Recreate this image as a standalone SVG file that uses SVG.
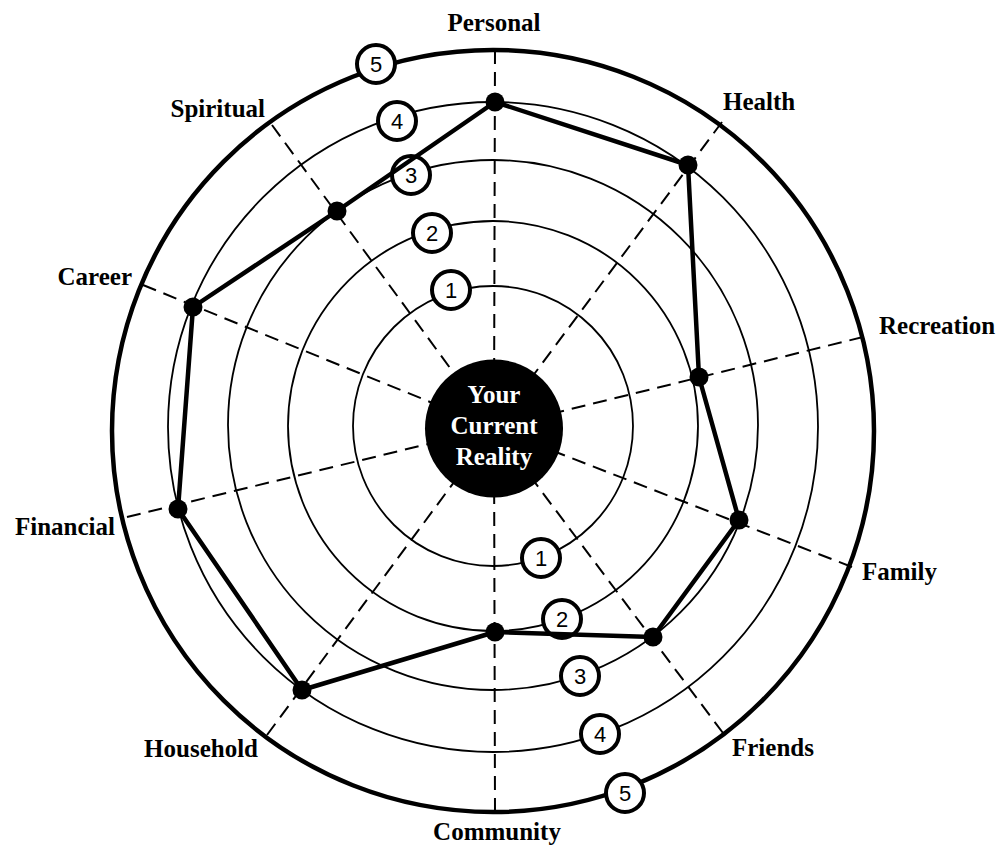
<svg xmlns="http://www.w3.org/2000/svg" width="1000" height="846" viewBox="0 0 1000 846">
<style>
.ring{fill:none;stroke:#000;stroke-width:1.8}
.outer{fill:none;stroke:#000;stroke-width:4.5}
.spoke{stroke:#000;stroke-width:2;stroke-dasharray:14 8;fill:none}
.num circle{fill:#fff;stroke:#000;stroke-width:4}
.num text{font-family:"Liberation Sans",Arial,sans-serif;font-size:22px;text-anchor:middle;fill:#000}
.lbl{font-family:"Liberation Serif","Times New Roman",serif;font-weight:bold;font-size:25px;fill:#000}
.dot{fill:#000}
</style>
<rect width="1000" height="846" fill="#fff"/>
<g id="rings">
<circle class="ring" cx="493" cy="426" r="140"/>
<circle class="ring" cx="493" cy="426" r="205"/>
<circle class="ring" cx="493" cy="425" r="265"/>
<circle class="ring" cx="493" cy="427" r="325"/>
<circle class="outer" cx="493" cy="431" r="381"/>
</g>
<g id="spokes">
<line class="spoke" x1="495" y1="50" x2="494" y2="428"/>
<line class="spoke" x1="722" y1="122" x2="494" y2="428"/>
<line class="spoke" x1="863" y1="337" x2="494" y2="428"/>
<line class="spoke" x1="852" y1="567" x2="494" y2="428"/>
<line class="spoke" x1="723" y1="733" x2="494" y2="428"/>
<line class="spoke" x1="495" y1="812" x2="494" y2="428"/>
<line class="spoke" x1="267" y1="735" x2="494" y2="428"/>
<line class="spoke" x1="127" y1="517" x2="494" y2="428"/>
<line class="spoke" x1="143" y1="285" x2="494" y2="428"/>
<line class="spoke" x1="272" y1="125" x2="494" y2="428"/>
</g>
<g id="center">
<circle cx="494" cy="428.5" r="69" fill="#000"/>
<text class="lbl" x="494" y="403" text-anchor="middle" style="fill:#fff">Your</text>
<text class="lbl" x="494" y="434" text-anchor="middle" style="fill:#fff">Current</text>
<text class="lbl" x="494" y="465" text-anchor="middle" style="fill:#fff">Reality</text>
</g>
<g id="scale-upper" class="num">
<circle cx="376" cy="64" r="19"/><text x="376" y="72">5</text>
<circle cx="397" cy="121" r="19"/><text x="397" y="129">4</text>
<circle cx="411" cy="175" r="19"/><text x="411" y="183">3</text>
<circle cx="432" cy="233" r="19"/><text x="432" y="241">2</text>
<circle cx="451" cy="290" r="19"/><text x="451" y="298">1</text>
</g>
<g id="scale-lower" class="num">
<circle cx="541" cy="558" r="19"/><text x="541" y="566">1</text>
<circle cx="562" cy="619" r="19"/><text x="562" y="627">2</text>
<circle cx="580" cy="676" r="19"/><text x="580" y="684">3</text>
<circle cx="600" cy="734" r="19"/><text x="600" y="742">4</text>
<circle cx="625" cy="793" r="19"/><text x="625" y="801">5</text>
</g>
<g id="profile">
<polygon points="495,102 688,165 699,377 739,520 653,637 495,632 302,690 178,509 193,307 337,211" fill="none" stroke="#000" stroke-width="4.5" stroke-linejoin="round"/>
<circle class="dot" cx="495" cy="102" r="9.5"/>
<circle class="dot" cx="688" cy="165" r="9.5"/>
<circle class="dot" cx="699" cy="377" r="9.5"/>
<circle class="dot" cx="739" cy="520" r="9.5"/>
<circle class="dot" cx="653" cy="637" r="9.5"/>
<circle class="dot" cx="495" cy="632" r="9.5"/>
<circle class="dot" cx="302" cy="690" r="9.5"/>
<circle class="dot" cx="178" cy="509" r="9.5"/>
<circle class="dot" cx="193" cy="307" r="9.5"/>
<circle class="dot" cx="337" cy="211" r="9.5"/>
</g>
<g id="labels">
<text class="lbl" x="494" y="31" text-anchor="middle">Personal</text>
<text class="lbl" x="723" y="110">Health</text>
<text class="lbl" x="879" y="334">Recreation</text>
<text class="lbl" x="862" y="580">Family</text>
<text class="lbl" x="732" y="756">Friends</text>
<text class="lbl" x="497" y="840" text-anchor="middle">Community</text>
<text class="lbl" x="258" y="757" text-anchor="end">Household</text>
<text class="lbl" x="115" y="535" text-anchor="end">Financial</text>
<text class="lbl" x="132" y="285" text-anchor="end">Career</text>
<text class="lbl" x="265" y="117" text-anchor="end">Spiritual</text>
</g>
</svg>
